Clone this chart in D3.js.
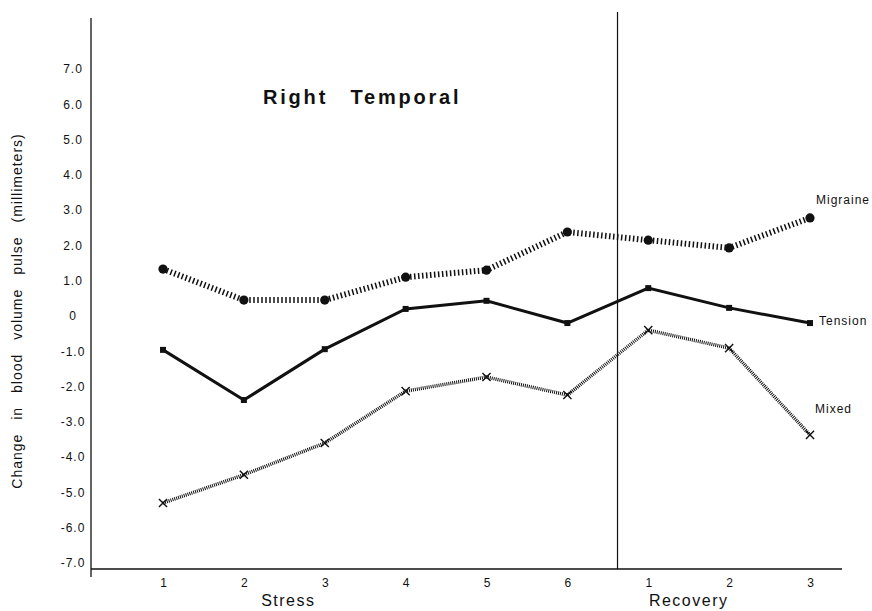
<!DOCTYPE html>
<html lang="en">
  <head>
    <meta charset="utf-8">
    <title>Right Temporal</title>
    <script src="https://d3js.org/d3.v7.min.js"></script>
    <style>
      body { margin: 0; background: #fff; }
      text { font-family: "Liberation Sans", Arial, sans-serif; fill: #111; }
    </style>
  </head>
  <body>
    <script>
      // data
      var categories = ["S1", "S2", "S3", "S4", "S5", "S6", "R1", "R2", "R3"];
      var tickLabels = ["1", "2", "3", "4", "5", "6", "1", "2", "3"];
      var yTicks = [-7, -6, -5, -4, -3, -2, -1, 0, 1, 2, 3, 4, 5, 6, 7];
      var seriesNames = ["Migraine", "Tension", "Mixed"];
      var migraine = [1.33, 0.45, 0.45, 1.1, 1.3, 2.38, 2.15, 1.93, 2.78];
      var tension = [-0.96, -2.38, -0.94, 0.2, 0.43, -0.2, 0.79, 0.23, -0.2];
      var mixed = [-5.3, -4.5, -3.6, -2.13, -1.73, -2.24, -0.4, -0.91, -3.37];

      var w = 872, h = 611;
      var left = 91, bottom = 569;

      var svg = d3.select("body").append("svg")
        .attr("width", w)
        .attr("height", h);

      var x = d3.scalePoint().domain(categories).range([163, 810]);
      var y = d3.scaleLinear().domain([-7, 7]).range([563, 69]);
      var step = x.step();

      // axis lines (drawn by hand, like the original)
      svg.append("line")
        .attr("x1", left).attr("x2", left)
        .attr("y1", 18).attr("y2", 577)
        .attr("stroke", "#111").attr("stroke-width", 1.3);
      svg.append("line")
        .attr("x1", left).attr("x2", 842)
        .attr("y1", bottom).attr("y2", bottom)
        .attr("stroke", "#111").attr("stroke-width", 1.6);

      // stress / recovery divider
      var divX = x("S6") + step * 0.62;
      svg.append("line")
        .attr("x1", divX).attr("x2", divX)
        .attr("y1", 12).attr("y2", bottom)
        .attr("stroke", "#111").attr("stroke-width", 1.2);

      var yAxis = svg.append("g")
        .attr("transform", "translate(" + left + ",0)")
        .call(d3.axisLeft(y).tickValues(yTicks).tickSize(0)
          .tickFormat(function(d){ return d === 0 ? "0" : d.toFixed(1); }));
      yAxis.select(".domain").remove();
      yAxis.selectAll("text")
        .attr("x", -18)
        .attr("text-anchor", "middle")
        .style("font-size", "12px")
        .style("letter-spacing", "1px");

      var xAxis = svg.append("g")
        .attr("transform", "translate(0," + bottom + ")")
        .call(d3.axisBottom(x).tickSize(0).tickPadding(9)
          .tickFormat(function(d, i){ return tickLabels[i]; }));
      xAxis.select(".domain").remove();
      xAxis.selectAll("text")
        .style("font-size", "12px");

      svg.append("text")
        .attr("x", x("S2") + step * 0.55)
        .attr("y", 606)
        .attr("text-anchor", "middle")
        .style("font-size", "16px")
        .style("letter-spacing", "1.5px")
        .text("Stress");
      svg.append("text")
        .attr("x", x("R1") + step * 0.5)
        .attr("y", 606)
        .attr("text-anchor", "middle")
        .style("font-size", "16px")
        .style("letter-spacing", "1.5px")
        .text("Recovery");

      svg.append("text")
        .attr("transform", "translate(22,311) rotate(-90)")
        .attr("text-anchor", "middle")
        .style("font-size", "14px")
        .style("letter-spacing", "1px")
        .style("word-spacing", "9px")
        .text("Change in blood volume pulse (millimeters)");

      svg.append("text")
        .attr("x", 263)
        .attr("y", 104)
        .style("font-size", "20px")
        .style("font-weight", "bold")
        .style("letter-spacing", "2.8px")
        .style("word-spacing", "14px")
        .text("Right Temporal");

      // series
      var styles = [
        { width: 6, dash: "1.5,2.5" },
        { width: 3, dash: null },
        { width: 3.5, dash: "1,1" }
      ];
      var labelOffsets = [[6, -14], [9, 2], [5, -22]];
      var allValues = [migraine, tension, mixed];

      var line = d3.line()
        .x(function(d, i){ return x(categories[i]); })
        .y(function(d){ return y(d); });

      allValues.forEach(function(vals, k){
        svg.append("path")
          .datum(vals)
          .attr("d", line)
          .attr("fill", "none")
          .attr("stroke", "#111")
          .attr("stroke-width", styles[k].width)
          .attr("stroke-dasharray", styles[k].dash);

        var last = vals.length - 1;
        svg.append("text")
          .attr("x", x(categories[last]) + labelOffsets[k][0])
          .attr("y", y(vals[last]) + labelOffsets[k][1])
          .style("font-size", "12px")
          .style("letter-spacing", "1px")
          .text(seriesNames[k]);
      });

      svg.selectAll(".mig")
        .data(migraine)
        .enter()
        .append("circle")
          .attr("cx", function(d, i){ return x(categories[i]); })
          .attr("cy", function(d){ return y(d); })
          .attr("r", 4.6)
          .attr("fill", "#111");

      svg.selectAll(".ten")
        .data(tension)
        .enter()
        .append("rect")
          .attr("x", function(d, i){ return x(categories[i]) - 3; })
          .attr("y", function(d){ return y(d) - 3; })
          .attr("width", 6)
          .attr("height", 6)
          .attr("fill", "#111");

      svg.selectAll(".mix")
        .data(mixed)
        .enter()
        .append("path")
          .attr("transform", function(d, i){
            return "translate(" + x(categories[i]) + "," + y(d) + ")";
          })
          .attr("d", d3.symbol().type(d3.symbolTimes).size(45))
          .attr("fill", "none")
          .attr("stroke", "#111")
          .attr("stroke-width", 1.4);
    </script>
  </body>
</html>
